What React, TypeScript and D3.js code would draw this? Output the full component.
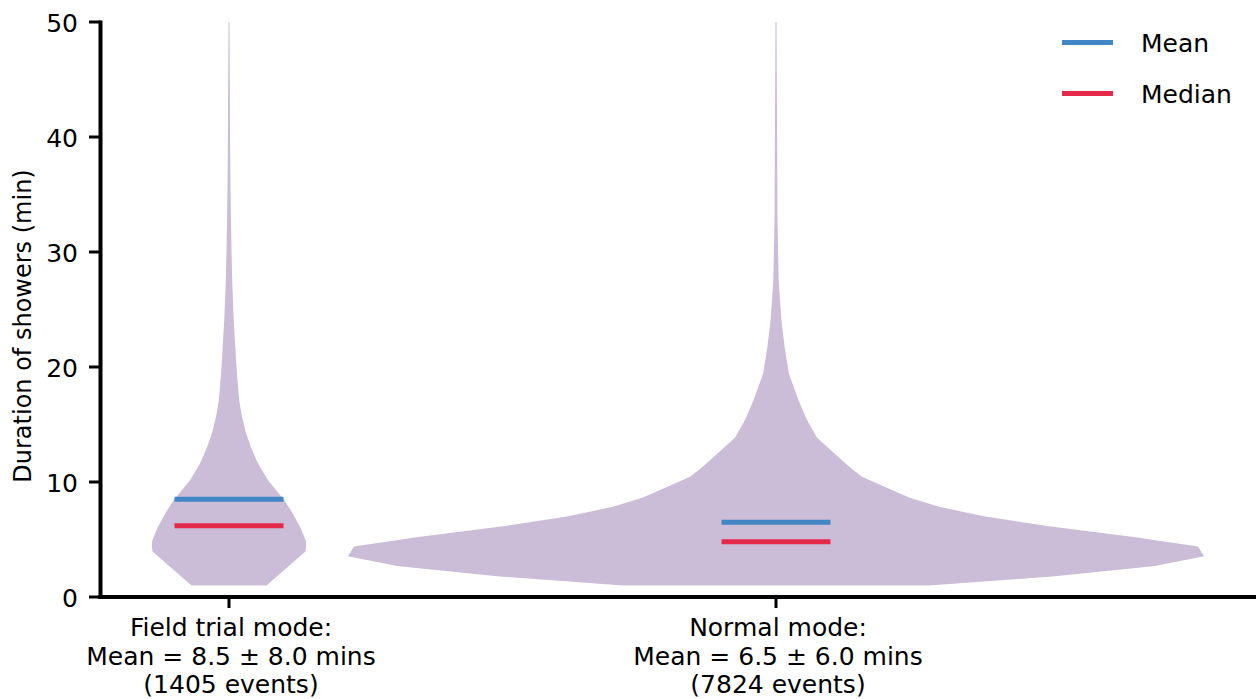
import * as d3 from 'd3';

const categories = ['Field trial mode:', 'Normal mode:'];
const means = [8.5, 6.5];
const sds = [8.0, 6.0];
const medians = [6.2, 4.8];
const counts = [1405, 7824];
const yTicks = [0, 10, 20, 30, 40, 50];

// violin outline: [duration (min), half-width (relative, px at full scale)]
const fieldTrialShape: [number, number][] = [
  [1.0, 37.5], [3.95, 76.5], [4.4, 77.2], [4.9, 76.8], [5.5, 74], [6.1, 71], [6.75, 67], [7.3, 63.5],
  [8.4, 55.5], [9.3, 47], [10.15, 39], [11.6, 29], [13.0, 22], [14.4, 16.5],
  [15.9, 12.5], [17.1, 10.2], [18.8, 8.5], [21, 6.8], [24, 4.8], [27, 3.4],
  [30, 2.5], [35.6, 1.5], [40, 1.1], [45, 0.8], [50, 0.5],
];
const normalShape: [number, number][] = [
  [1.0, 153], [1.8, 279], [2.7, 379], [3.55, 428], [4.4, 422], [5.25, 356],
  [6.15, 273], [7.0, 209], [7.85, 163], [8.65, 133], [10.45, 86], [11.35, 73],
  [13.85, 41], [15.4, 31], [17.1, 22.5], [19.4, 13], [21.5, 9], [24.0, 5.5],
  [27.5, 2.7], [32.7, 1.5], [41.4, 1], [50, 0.5],
];
const shapes = [fieldTrialShape, normalShape];

const legendItems = [
  { label: 'Mean', color: '#4286c6' },
  { label: 'Median', color: '#e4294b' },
];

const width = 1256;
const height = 699;
const font = "'DejaVu Sans', Verdana, sans-serif";
const violinFill = '#cbbdd8';

const App = () => {
  const yScale = d3.scaleLinear([0, 50], [597, 22]);
  const xScale = d3.scalePoint(categories, [229, 776]);
  const wScale = d3.scaleLinear([0, 428], [0, 428]);
  const lineHalf = 54.5;
  const axisX = 100.5;

  const violin = (cx: number) =>
    d3
      .area<[number, number]>()
      .y((d) => yScale(d[0]))
      .x0((d) => cx - wScale(d[1]))
      .x1((d) => cx + wScale(d[1]))
      .curve(d3.curveLinear);

  return (
    <svg
      width={width}
      height={height}
      style={{ position: 'absolute', left: 0, top: 0, background: '#fff' }}
      fontFamily={font}
    >
      {categories.map((c, i) => {
        const cx = xScale(c) ?? 0;
        return (
          <g key={c}>
            <path d={violin(cx)(shapes[i]) ?? ''} fill={violinFill} />
            <line x1={cx - lineHalf} x2={cx + lineHalf} y1={yScale(means[i])} y2={yScale(means[i])} stroke={legendItems[0].color} strokeWidth={5} />
            <line x1={cx - lineHalf} x2={cx + lineHalf} y1={yScale(medians[i])} y2={yScale(medians[i])} stroke={legendItems[1].color} strokeWidth={5} />
          </g>
        );
      })}

      {/* y axis */}
      <line x1={axisX} x2={axisX} y1={yScale(50) - 1.5} y2={yScale(0) + 2} stroke="#000" strokeWidth={4} />
      {yTicks.map((t) => (
        <g key={t}>
          <line x1={89} x2={axisX} y1={yScale(t)} y2={yScale(t)} stroke="#000" strokeWidth={3} />
          <text x={78} y={yScale(t) + 9.5} textAnchor="end" fontSize={25}>
            {t}
          </text>
        </g>
      ))}
      <text transform={`translate(31,326) rotate(-90)`} textAnchor="middle" fontSize={24}>
        Duration of showers (min)
      </text>

      {/* x axis */}
      <line x1={axisX - 2} x2={width} y1={yScale(0)} y2={yScale(0)} stroke="#000" strokeWidth={4} />
      {categories.map((c, i) => {
        const cx = xScale(c) ?? 0;
        return (
          <g key={c}>
            <line x1={cx} x2={cx} y1={yScale(0)} y2={yScale(0) + 11} stroke="#000" strokeWidth={3} />
            <text x={cx + 2} textAnchor="middle" fontSize={25}>
              <tspan x={cx + 2} y={636}>{c}</tspan>
              <tspan x={cx + 2} y={665}>{`Mean = ${means[i].toFixed(1)} ± ${sds[i].toFixed(1)} mins`}</tspan>
              <tspan x={cx + 2} y={693}>{`(${counts[i]} events)`}</tspan>
            </text>
          </g>
        );
      })}

      {/* legend */}
      {legendItems.map((l, i) => (
        <g key={l.label} transform={`translate(0,${42.5 + i * 51})`}>
          <line x1={1062} x2={1113} y1={0} y2={0} stroke={l.color} strokeWidth={5} />
          <text x={1141} y={9.3} fontSize={25}>
            {l.label}
          </text>
        </g>
      ))}
    </svg>
  );
};

export default App;
